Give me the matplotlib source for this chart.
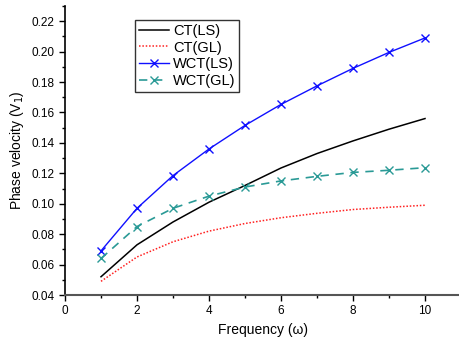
import matplotlib
matplotlib.use("Agg")
import matplotlib.pyplot as plt
from matplotlib.ticker import MultipleLocator

plt.rcParams['font.family'] = ['Liberation Sans', 'DejaVu Sans']

freq = [1, 2, 3, 4, 5, 6, 7, 8, 9, 10]
ct_ls = [0.052, 0.073, 0.088, 0.101, 0.112, 0.1235, 0.133, 0.1413, 0.149, 0.156]
ct_gl = [0.049, 0.065, 0.075, 0.082, 0.087, 0.0908, 0.0937, 0.0962, 0.0977, 0.099]
wct_ls = [0.069, 0.097, 0.1185, 0.136, 0.1515, 0.1653, 0.1775, 0.189, 0.1995, 0.209]
wct_gl = [0.064, 0.085, 0.097, 0.105, 0.111, 0.115, 0.118, 0.1206, 0.122, 0.1237]

fig = plt.figure(figsize=(4.59, 3.47), dpi=100)
ax = fig.add_axes([65/459, 52/347, 396/459, 289/347])

ax.plot(freq, ct_ls, color='black', lw=1.1, label='CT(LS)')
ax.plot(freq, ct_gl, color='#ff2020', lw=1.1, ls=(0, (1, 1.2)), label='CT(GL)')
ax.plot(freq, wct_ls, color='#1010ff', lw=1.0, marker='x', ms=6, mew=1.0, label='WCT(LS)')
ax.plot(freq, wct_gl, color='#2a9a96', lw=1.2, ls=(0, (5, 4)), marker='x', ms=6, mew=1.0, label='WCT(GL)')

ax.set_xlim(0, 11)
ax.set_ylim(0.04, 0.23)
ax.xaxis.set_major_locator(MultipleLocator(2))
ax.xaxis.set_minor_locator(MultipleLocator(1))
ax.yaxis.set_minor_locator(MultipleLocator(0.01))
ax.set_yticks([0.04, 0.06, 0.08, 0.10, 0.12, 0.14, 0.16, 0.18, 0.20, 0.22])
ax.set_yticklabels(['0.04', '0.06', '0.08', '0.10', '0.12', '0.14', '0.16', '0.18', '0.20', '0.22'])

for s in ['top', 'right']:
    ax.spines[s].set_visible(False)
ax.spines['left'].set_linewidth(1.2)
ax.spines['bottom'].set_linewidth(1.5)
ax.spines['bottom'].set_color('#555555')
ax.tick_params(axis='both', which='major', direction='out', length=4, width=1, labelsize=8.5, colors='black')
ax.tick_params(axis='both', which='minor', direction='out', length=2.5, width=1)

ax.set_xlabel('Frequency (ω)', fontsize=10, labelpad=4)
ax.set_ylabel('Phase velocity (V$_1$)', fontsize=10, labelpad=4)

leg = ax.legend(loc='upper left', bbox_to_anchor=(70/396, 1 - 14/289), fontsize=10.5, frameon=True,
                fancybox=False, edgecolor='black', handlelength=2.1, handletextpad=0.25,
                borderpad=0.25, labelspacing=0.2, borderaxespad=0)
leg.get_frame().set_linewidth(1.0)

fig.savefig('out.png', dpi=100)
